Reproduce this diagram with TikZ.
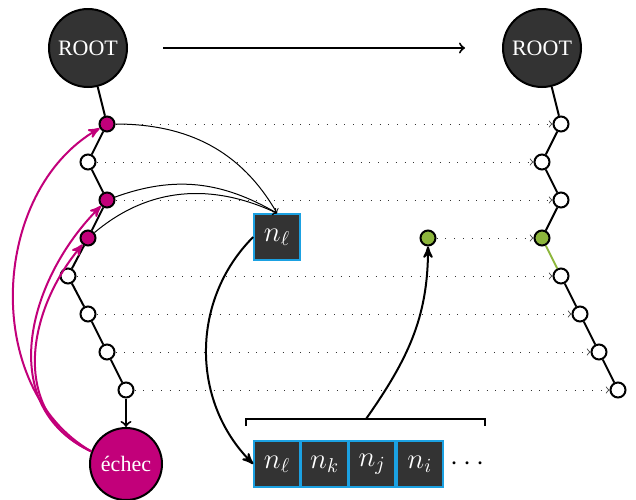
\documentclass[tikz,border=0pt]{standalone}
\usepackage{fontspec}
\setmainfont{Liberation Serif}
\usepackage{tikz}
\usetikzlibrary{arrows,arrows.meta,calc,positioning}
\definecolor{dmagenta}{RGB}{194,0,122}
\definecolor{lgreen}{RGB}{141,182,60}
\definecolor{dgray}{RGB}{51,51,51}
\definecolor{lblue}{RGB}{27,161,226}
\tikzset{
  x=0.5pt,y=0.5pt,
  >=to,
  root/.style={circle,draw=black,line width=1pt,fill=dgray,text=white,minimum size=39pt,inner sep=0pt,font=\fontsize{11}{13}\selectfont},
  fail/.style={root,fill=dmagenta,minimum size=36pt},
  knot/.style={circle,draw=black,line width=1pt,fill=white,minimum size=7.5pt,inner sep=0pt},
  mknot/.style={knot,fill=dmagenta},
  gknot/.style={knot,fill=lgreen},
  cell/.style={rectangle,draw=lblue,line width=0.8pt,fill=dgray,text=white,minimum size=23pt,inner sep=0pt,font=\Large},
  edge/.style={line width=1pt},
  link/.style={->,black!80,line width=0.4pt,loosely dotted},
  back/.style={-stealth',dmagenta,line width=1pt},
  jump/.style={->,line width=0.5pt},
  move/.style={-stealth',line width=1pt}
}
\begin{document}
\begin{tikzpicture}
  \useasboundingbox (0,0) rectangle (636,-499);

  \node [root] (ra) at (88,-48) {ROOT};
  \node [root] (rb) at (542,-48) {ROOT};
  \draw [->,line width=1pt] ([xshift=17.5pt]ra.east) -- ([xshift=-18.5pt]rb.west);

  % chemin de gauche
  \node [mknot] (a1) at (107,-124) {};
  \node [knot]  (a2) at (88,-162) {};
  \node [mknot] (a3) at (107,-200) {};
  \node [mknot] (a4) at (88,-238) {};
  \node [knot]  (a5) at (68,-276) {};
  \node [knot]  (a6) at (88,-314) {};
  \node [knot]  (a7) at (107,-352) {};
  \node [knot]  (a8) at (126,-390) {};
  \node [fail]  (f) at (126,-464) {échec};

  \draw [edge] (ra) -- (a1) -- (a2) -- (a3) -- (a4) -- (a5) -- (a6) -- (a7) -- (a8);
  \draw [edge,->] (a8) -- (f);

  % chemin de droite
  \node [knot]  (b1) at (561,-124) {};
  \node [knot]  (b2) at (542,-162) {};
  \node [knot]  (b3) at (561,-200) {};
  \node [gknot] (b4) at (542,-238) {};
  \node [knot]  (b5) at (561,-276) {};
  \node [knot]  (b6) at (580,-314) {};
  \node [knot]  (b7) at (599,-352) {};
  \node [knot]  (b8) at (618,-390) {};

  \draw [edge] (rb) -- (b1) -- (b2) -- (b3) -- (b4);
  \draw [edge,lgreen] (b4) -- (b5);
  \draw [edge] (b5) -- (b6) -- (b7) -- (b8);

  \node [gknot] (g) at (428,-238) {};

  \draw [link] (a1) -- (b1);
  \draw [link] (a2) -- (b2);
  \draw [link] (a3) -- (b3);
  \draw [link] (g) -- (b4);
  \draw [link] (a5) -- (b5);
  \draw [link] (a6) -- (b6);
  \draw [link] (a7) -- (b7);
  \draw [link] (a8) -- (b8);

  % pile
  \node [cell] (n) at (277,-237) {$n_\ell$};
  \node [cell] (c1) at (277,-464) {$n_\ell$};
  \node [cell,right=0pt of c1] (c2) {$n_k$};
  \node [cell,right=0pt of c2] (c3) {$n_j$};
  \node [cell,right=0pt of c3] (c4) {$n_i$};
  \node [right=0pt of c4,font=\Large] (dots) {$\cdots$};

  \coordinate (bl) at (246,-426);
  \coordinate (br) at (485,-426);
  \coordinate (bm) at (366,-419);
  \draw [line width=1pt] (bl) -- ++(0,7) -| (br);

  \draw [jump] (a1) to[out=0,in=120] (n.north);
  \draw [jump] (a3) to[out=20,in=150] (n.north);
  \draw [jump] (a4) to[out=40,in=155] (n.north);

  \draw [move] (n.west) to[out=225,in=135] (c1.west);
  \draw [move] (bm) to[out=55,in=-90] (g);

  \draw [back] (f.160) to[out=150,in=210] (a1);
  \draw [back] (f.160) to[out=155,in=225,looseness=1.1] (a3);
  \draw [back] (f.160) to[out=155,in=230,looseness=1.1] (a4);
\end{tikzpicture}
\end{document}
